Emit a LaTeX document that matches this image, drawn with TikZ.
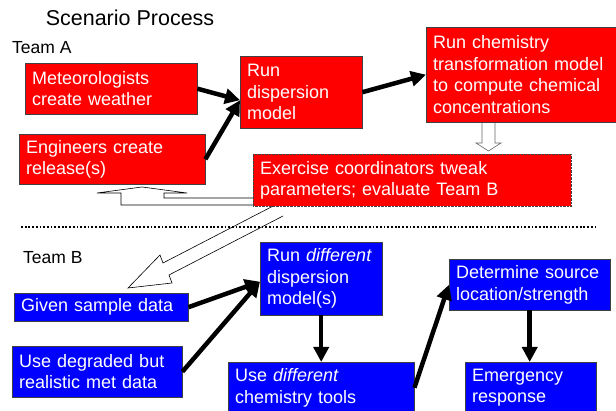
\documentclass[tikz,border=0pt]{standalone}
\usepackage{fontspec}
\setmainfont{Liberation Sans}
\usepackage{tikz}
\usetikzlibrary{calc, arrows.meta, positioning}

\newcommand{\boxfont}{\fontsize{18}{21.5}\selectfont}

\begin{document}
\begin{tikzpicture}[x=1pt, y=-1pt,
        redbox/.style={draw=black!75, fill=red, text=white, anchor=north west,
            align=left, inner xsep=7pt, inner ysep=0pt, font=\boxfont},
        bluebox/.style={redbox, fill=blue},
        flow/.style={line width=4.5pt, -{Triangle[length=15pt, width=15pt]}},
        hollow/.style={draw=black, fill=white, line width=0.6pt}]
            \useasboundingbox (0, 0) rectangle (616, 411);

            % hollow arrows behind the boxes
            \draw[hollow, draw=black!60] (482, 120) -- (482, 143) -- (476, 143) -- (488.5, 151)
                -- (501, 143) -- (495, 143) -- (495, 120);
            \draw[hollow] (262, 198) -- (164, 198) -- (164, 193) -- (187, 193) -- (142, 187)
                -- (97, 193) -- (121, 193) -- (121, 205) -- (262, 205);
            \draw[hollow] (277, 204) -- (163, 263) -- (160, 255) -- (128, 288)
                -- (172, 283) -- (169, 275) -- (283, 216);

            \node (title) at (130, 18) {\fontsize{21.5}{24}\selectfont Scenario Process};
            \node[anchor=base west, inner sep=0pt] (teamA) at (12, 54) {\fontsize{17.5}{20}\selectfont Team A};
            \node[anchor=base west, inner sep=0pt] (teamB) at (23, 264) {\fontsize{17.5}{20}\selectfont Team B};

            % Team A
            \node[redbox, minimum width=172pt, minimum height=51pt, text width=158pt] (met) at (25, 63)
                {Meteorologists\\create weather};
            \node[redbox, minimum width=186pt, minimum height=50pt, text width=172pt] (eng) at (19, 134)
                {Engineers create\\release(s)};
            \node[redbox, minimum width=122pt, minimum height=72pt, text width=108pt] (disp) at (240, 56)
                {Run\\dispersion\\model};
            \node[redbox, minimum width=192pt, minimum height=95pt, text width=178pt] (chem) at (426, 27)
                {Run chemistry\\transformation model\\to compute chemical\\concentrations};
            \node[redbox, densely dotted, minimum width=318pt, minimum height=52pt, text width=304pt] (coord) at (253, 154)
                {Exercise coordinators tweak\\parameters; evaluate Team B};

            \draw[flow] (met.east) -- ([yshift=-8pt]disp.west);
            \draw[flow] (eng.east) -- ([yshift=-8pt]disp.west);
            \draw[flow] (disp.east) -- (chem.west);

            \coordinate (sepL) at (21, 227);
            \coordinate (sepR) at (598, 227);
            \draw[line width=1.8pt, dash pattern=on 1.8pt off 1.9pt] (sepL) -- (sepR);

            % Team B
            \node[bluebox, minimum width=174pt, minimum height=28pt, text width=160pt] (given) at (14, 293)
                {Given sample data};
            \node[bluebox, minimum width=170pt, minimum height=51pt, text width=156pt] (degr) at (12, 346)
                {Use degraded but\\realistic met data};
            \node[bluebox, minimum width=122pt, minimum height=73pt, text width=108pt] (rundiff) at (260, 242)
                {Run \textit{different}\\dispersion\\model(s)};
            \node[bluebox, minimum width=186pt, minimum height=51pt, text width=172pt] (usediff) at (228, 362)
                {Use \textit{different}\\chemistry tools};
            \node[bluebox, minimum width=161pt, minimum height=51pt, text width=147pt] (source) at (449, 259)
                {Determine source\\location/strength};
            \node[bluebox, minimum width=131pt, minimum height=51pt, text width=117pt] (emerg) at (465, 362)
                {Emergency\\response};

            \draw[flow] (given.east) -- ([yshift=-3pt]rundiff.west);
            \draw[flow] (degr.east) -- ([yshift=-3pt]rundiff.west);
            \draw[flow] (rundiff.south) -- (usediff.north);
            \draw[flow] (usediff.east) -- (source.west);
            \draw[flow] (source.south) -- (source.south |- emerg.north);
        \end{tikzpicture}
\end{document}
